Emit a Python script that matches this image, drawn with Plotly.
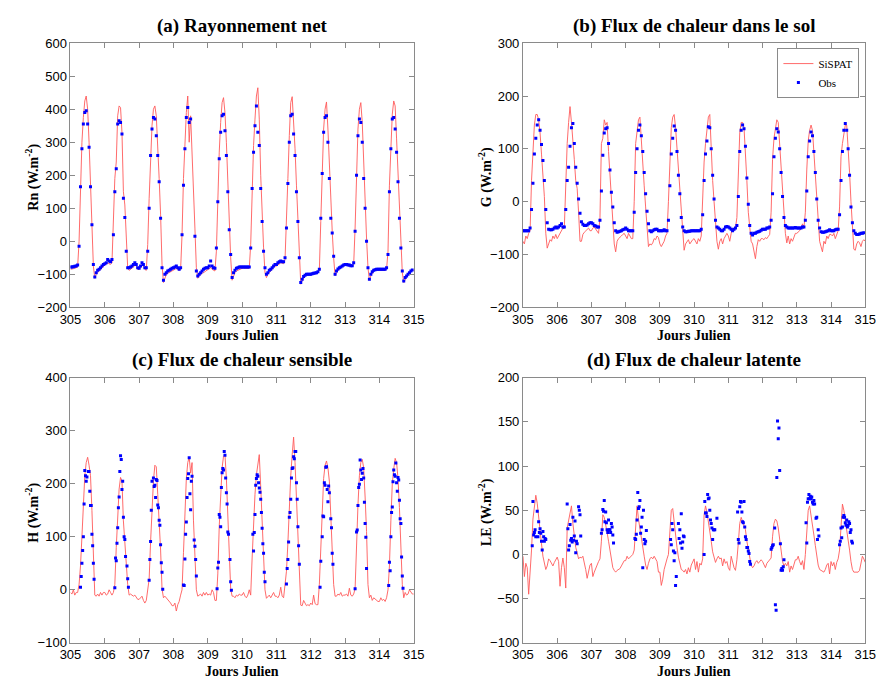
import plotly.graph_objects as go

N = None
DAYS = list(range(305, 315))

# ---------------- (a) Net radiation, hourly values per day ----------------
RN_SISPAT = [
    [-85,-85,-83,-82,-80,-78,0,190,300,375,425,440,400,300,180,50,-75,-112,-100,-95,-90,-85,-80,-75],
    [-72,-70,-65,-68,-70,-65,70,190,240,380,410,405,330,150,110,-10,-80,-88,-85,-82,-78,-72,-75,-85],
    [-85,-80,-70,-75,-85,-88,-10,130,270,350,400,410,380,300,190,80,-70,-125,-110,-100,-97,-95,-92,-90],
    [-88,-85,-82,-85,-88,-85,20,190,300,390,440,300,380,280,160,40,-80,-112,-105,-100,-97,-95,-92,-90],
    [-88,-85,-80,-85,-88,-90,-30,140,270,360,420,435,390,300,180,50,-50,-118,-105,-95,-90,-88,-85,-85],
    [-82,-82,-82,-82,-82,-82,-10,180,290,370,440,465,370,200,80,-20,-95,-110,-100,-95,-90,-85,-80,-75],
    [-75,-72,-68,-65,-66,-68,-55,50,190,320,420,438,370,280,170,70,-40,-130,-120,-110,-105,-103,-102,-100],
    [-102,-101,-100,-99,-97,-94,-88,60,220,340,400,422,340,230,90,30,-50,-105,-95,-88,-84,-80,-77,-75],
    [-72,-72,-74,-75,-76,-76,-70,40,220,340,400,420,360,230,120,10,-80,-118,-105,-95,-90,-88,-87,-87],
    [-88,-88,-88,-88,-88,-85,-30,170,300,385,425,410,310,200,80,-20,-95,-125,-115,-108,-102,-97,-92,-88],
]
RN_SISPAT_END = -88
RN_OBS = [
    [-78,-78,-77,-76,-75,-72,-15,165,280,355,390,395,355,285,165,50,-70,-108,-95,-88,-85,-80,-75,-70],
    [-68,-65,-55,-60,-62,-55,20,150,220,355,365,360,325,130,72,-30,-80,-80,-78,-75,-70,-65,-70,-80],
    [-82,-75,-65,-70,-80,-80,-30,100,260,340,375,370,320,260,180,70,-80,-118,-100,-95,-90,-88,-85,-82],
    [-80,-78,-75,-80,-85,-80,20,170,280,375,405,360,370,N,N,15,-90,-105,-100,-95,-90,-85,-82,-80],
    [-80,-75,-60,-75,-80,-82,-20,120,250,330,380,385,335,260,150,35,-40,-110,-95,-88,-82,-80,-78,-78],
    [-78,-78,-78,-78,-78,-78,-20,160,270,350,410,330,290,160,60,-30,-80,-100,-95,-88,-85,-80,-75,-70],
    [-70,-65,-62,-60,-62,-62,-50,40,175,300,380,385,325,260,150,60,-50,-125,-115,-107,-103,-100,-100,-100],
    [-100,-98,-97,-96,-95,-92,-85,70,205,330,375,380,300,190,70,25,-45,-100,-90,-84,-80,-78,-75,-72],
    [-70,-70,-72,-72,-74,-74,-65,30,200,320,370,360,300,190,100,0,-80,-115,-100,-92,-88,-86,-85,-85],
    [-85,-85,-85,-85,-85,-80,-40,150,280,370,375,340,270,180,70,-20,-90,-120,-110,-105,-100,-95,-90,-87],
]

# ---------------- (b) Ground heat flux, hourly values per day ----------------
G_SISPAT = [
    [-75,-80,-65,-70,-60,-55,40,100,145,165,165,155,130,90,50,10,-60,-88,-80,-72,-75,-65,-70,-62],
    [-70,-65,-60,-55,-50,-50,40,110,150,180,150,120,80,40,25,-20,-75,-75,-62,-58,-55,-52,-50,-55],
    [-55,-50,-48,-52,-55,-60,-30,110,120,155,145,150,95,55,15,-35,-80,-95,-75,-70,-68,-65,-62,-60],
    [-65,-70,-60,-65,-70,-70,0,110,140,155,160,110,70,30,-10,-50,-85,-80,-82,-78,-70,-72,-65,-68],
    [-80,-85,-80,-75,-65,-60,0,90,140,160,165,140,100,60,25,-25,-70,-92,-80,-75,-72,-80,-75,-72],
    [-70,-75,-80,-70,-75,-65,10,75,110,135,160,165,90,40,0,-40,-75,-90,-75,-70,-80,-70,-65,-60],
    [-65,-75,-60,-50,-55,-50,-30,70,130,150,150,140,95,40,-20,-50,-75,-80,-95,-108,-85,-72,-75,-70],
    [-70,-72,-68,-70,-66,-62,-20,80,120,140,155,150,110,65,20,-25,-60,-78,-65,-80,-70,-75,-65,-60],
    [-60,-58,-55,-50,-42,-50,-20,60,115,135,145,135,95,50,10,-40,-75,-85,-95,-75,-80,-65,-70,-62],
    [-62,-65,-60,-70,-60,-55,-10,85,110,130,145,145,105,55,0,-50,-90,-92,-80,-75,-78,-85,-75,-72],
]
G_SISPAT_END = -75
G_OBS = [
    [-55,-55,-55,-55,-55,-50,-15,35,90,120,145,155,135,108,78,40,-15,-40,-52,-53,-53,-52,-50,-48],
    [-50,-48,-45,-42,-48,-48,-15,40,65,105,140,148,110,65,35,5,-22,-38,-43,-45,-45,-44,-42,-40],
    [-40,-42,-45,-46,-48,-48,-35,20,88,130,138,140,110,60,18,-10,-40,-55,-58,-57,-56,-55,-53,-52],
    [-50,-52,-55,-55,-55,-55,-20,55,100,135,145,125,95,55,15,-18,-42,-55,-57,-55,-53,-52,-52,-55],
    [-55,-55,-55,-53,-55,-55,-35,30,90,120,143,135,95,50,15,-30,-48,-55,-57,-57,-56,-56,-55,-55],
    [-55,-55,-55,-55,-55,-52,-25,40,90,115,142,140,100,50,5,-35,-48,-50,-52,-55,-55,-52,-48,-47],
    [-48,-50,-52,-55,-52,-50,-45,10,95,135,145,138,105,45,-5,-45,-60,-63,-60,-60,-58,-57,-56,-54],
    [-52,-52,-52,-50,-50,-48,-35,15,85,120,138,132,100,55,10,-30,-45,-48,-50,-50,-50,-50,-50,-49],
    [-50,-50,-50,-50,-48,-48,-35,20,85,115,132,125,95,55,5,-35,-50,-57,-58,-58,-57,-56,-55,-53],
    [-55,-55,-55,-53,-52,-52,-25,40,95,135,148,135,100,50,-10,-40,-55,-60,-62,-62,-61,-60,-60,-59],
]

# ---------------- (c) Sensible heat flux ----------------
H_SISPAT = [
    [-5,-8,0,-10,-5,-5,10,45,100,170,215,240,250,235,215,150,50,-10,-12,-8,-12,-5,-10,-5],
    [-5,-10,-8,0,-5,-10,-5,10,80,140,190,212,205,130,85,50,10,-10,-8,-10,-12,-10,-15,-18],
    [-18,-15,-12,-20,-25,-20,0,20,90,150,205,235,232,180,137,75,2,-15,-12,-15,-18,-20,-25,-30],
    [-30,-25,-40,-28,-22,-10,0,70,150,210,240,250,220,240,130,55,0,-12,-10,-8,-12,-5,-10,-5],
    [-10,-8,-10,0,-5,-20,-20,30,120,190,230,252,255,210,150,65,2,-12,-12,-15,-10,-12,-8,-10],
    [-10,-5,-12,-15,-10,0,-10,60,125,180,217,240,255,195,135,70,0,-16,-12,-10,-15,-10,-5,-12],
    [-12,-15,-10,5,-12,-15,5,35,88,160,215,255,288,240,170,95,35,-29,-30,-20,-25,-30,-28,-30],
    [-25,-28,-10,-26,-28,-28,10,70,150,210,235,243,230,205,140,60,10,-12,-12,-8,-10,-5,-12,-10],
    [-10,-8,-12,3,-10,-12,-8,2,90,160,215,240,246,230,175,110,10,-15,-10,-20,-15,-18,-20,-22],
    [-22,-15,-20,-18,-22,-15,0,45,130,200,228,248,240,210,155,88,10,-15,-5,-10,-8,0,-5,-8],
]
H_SISPAT_END = -8
# observations every half hour from 06:00 to 17:00 (23 values per day)
H_OBS = [
    [N,N,5,25,50,74,100,162,225,215,205,213,N,223,223,186,159,159,105,83,50,20,N],
    [N,N,4,60,55,88,117,155,175,223,253,246,189,205,137,100,95,63,N,45,21,5,N],
    [N,N,18,57,91,150,205,N,211,195,197,174,208,206,160,155,131,122,85,51,33,1,N],
    [N,N,9,8,58,105,128,174,210,219,249,181,151,205,214,N,N,94,82,57,26,N,N],
    [N,2,41,52,142,137,119,193,221,229,226,261,254,211,183,162,109,105,N,57,15,-1,N],
    [N,N,N,105,73,108,142,197,210,217,214,202,192,184,171,146,116,87,69,33,15,N,N],
    [N,N,11,40,57,90,137,146,171,211,229,230,251,247,261,261,202,171,119,83,48,N,N],
    [N,5,54,N,100,139,138,202,197,231,232,189,166,196,183,N,134,117,69,48,N,N,N],
    [N,N,2,N,109,113,159,193,199,245,226,208,220,229,211,165,125,99,40,N,N,N,N],
    [N,8,52,36,100,146,156,204,226,217,214,239,202,186,212,207,169,134,125,62,26,3,N],
]

# ---------------- (d) Latent heat flux ----------------
LE_SISPAT = [
    [-2,-25,-10,-15,-45,-25,5,40,58,67,58,40,28,12,-2,-10,-17,-13,-5,-7,-11,-13,-9,-5],
    [-3,-8,-36,-15,-4,-15,-38,30,40,50,55,35,20,8,2,-5,-3,-4,-2,-9,-17,-27,-20,-12],
    [-10,-25,-20,-15,-12,-8,-5,15,45,42,35,25,15,5,-8,-15,-18,-20,-18,-17,-16,-13,-10,-7],
    [-7,-2,-5,-3,-1,0,5,30,55,40,28,18,8,-2,-12,-17,-10,-5,-3,-5,-2,-5,-8,-20],
    [-20,-35,-28,-17,-10,-5,0,25,50,52,35,20,8,-3,-12,-17,-18,-20,-17,-22,-15,-20,-12,-8],
    [-5,-17,-8,-20,-10,-12,-5,45,55,48,35,25,15,3,-5,-9,-5,-2,-5,-4,-13,-5,-10,-8],
    [-15,-18,-2,-9,-15,-18,-6,13,35,42,38,34,28,15,5,-3,-12,-15,-13,-9,-7,-10,-8,-6],
    [-8,-12,-15,-10,-8,-6,-4,20,35,40,38,30,18,5,-8,-13,-10,-13,-8,-20,-13,-17,-10,-6],
    [-6,-2,-8,-12,-7,-17,0,25,50,55,42,32,22,10,-2,-12,-17,-18,-19,-20,-17,-12,-10,-22],
    [-8,-13,-9,-17,-9,-5,5,30,57,50,40,25,15,5,-8,-17,-20,-20,-20,-20,-18,-10,-2,-5],
]
LE_SISPAT_END = -9
LE_OBS = [
    [N,10,60,22,25,28,20,N,49,20,37,25,29,24,15,5,26,20,15,18,17,N,N],
    [N,N,57,29,5,10,34,16,18,14,42,16,21,38,2,15,12,N,54,50,45,21,N],
    [N,N,24,28,51,49,61,37,48,36,28,25,39,28,28,25,35,31,22,13,N,N,N],
    [N,18,17,23,39,70,52,54,61,24,31,42,-15,50,17,12,15,27,N,N,N,N,N],
    [N,N,N,17,11,35,28,4,-7,2,-35,-25,N,N,35,18,28,13,46,7,14,21,20],
    [N,N,0,60,47,47,43,68,63,64,50,39,35,30,17,28,28,28,N,N,41,N,N],
    [N,48,17,13,54,60,59,48,37,36,60,31,20,17,8,8,4,1,-8,-11,N,N,N],
    [6,8,10,11,N,30,-57,-63,87,151,131,143,95,12,-18,-16,-18,-14,-6,N,N,N,N],
    [N,36,13,59,63,68,63,66,63,65,59,57,61,57,N,41,42,17,28,21,N,N,N],
    [11,15,30,19,31,42,44,42,36,33,39,31,33,37,35,25,28,15,13,N,N,N,N],
]

X_TICKS = list(range(305, 316))
TITLES = ["(a) Rayonnement net", "(b) Flux de chaleur dans le sol",
          "(c) Flux de chaleur sensible", "(d) Flux de chaleur latente"]
YLABELS = ["Rn (W.m<sup>-2</sup>)", "G (W.m<sup>-2</sup>)",
           "H (W.m<sup>-2</sup>)", "LE (W.m<sup>-2</sup>)"]
YRANGES = [(-200, 600, 100), (-200, 300, 100), (-100, 400, 100), (-100, 200, 50)]


def flat(rows, end=None):
    out = [v for r in rows for v in r]
    if end is not None:
        out.append(end)
    return out


t_model = [305 + k / 24 for k in range(241)]
t_hourly = [305 + k / 24 for k in range(240)]
t_half = [d + (6 + 0.5 * j) / 24 for d in DAYS for j in range(23)]

series = [
    (flat(RN_SISPAT, RN_SISPAT_END), t_hourly, flat(RN_OBS)),
    (flat(G_SISPAT, G_SISPAT_END), t_hourly, flat(G_OBS)),
    (flat(H_SISPAT, H_SISPAT_END), t_half, flat(H_OBS)),
    (flat(LE_SISPAT, LE_SISPAT_END), t_half, flat(LE_OBS)),
]

W, H = 886, 688
# plot areas in pixels: (left, right, top, bottom)
boxes = [(61, 413, 37, 307), (525, 876, 37, 307),
         (61, 413, 379, 650), (525, 876, 379, 650)]

fig = go.Figure()
RED = "rgb(255,90,90)"
BLUE = "#0000ff"
GREY = "#8a8a8a"

for i, (model, t_obs, obs) in enumerate(series):
    xa = "x" if i == 0 else f"x{i+1}"
    ya = "y" if i == 0 else f"y{i+1}"
    fig.add_trace(go.Scatter(x=t_model, y=model, mode="lines", name="SiSPAT",
                             line=dict(color=RED, width=0.9),
                             xaxis=xa, yaxis=ya, showlegend=(i == 1)))
    fig.add_trace(go.Scatter(x=t_obs, y=obs, mode="markers", name="Obs",
                             marker=dict(color=BLUE, size=3, symbol="square",
                                         line=dict(width=0)),
                             xaxis=xa, yaxis=ya, showlegend=(i == 1)))

axis_common = dict(showline=True, linecolor=GREY, linewidth=1, mirror="ticks",
                   ticks="inside", ticklen=5, tickcolor=GREY, showgrid=False,
                   zeroline=False,
                   tickfont=dict(family="Liberation Sans, Arial", size=13, color="black"))

layout = dict(width=W, height=H, margin=dict(l=0, r=0, t=0, b=0),
              paper_bgcolor="white", plot_bgcolor="white", showlegend=True)
annotations = []
for i, (l, r, t, b) in enumerate(boxes):
    xk = "xaxis" if i == 0 else f"xaxis{i+1}"
    yk = "yaxis" if i == 0 else f"yaxis{i+1}"
    ya = "y" if i == 0 else f"y{i+1}"
    xa = "x" if i == 0 else f"x{i+1}"
    lo, hi, dt = YRANGES[i]
    layout[xk] = dict(domain=[l / W, r / W], range=[305, 315], anchor=ya,
                      tickmode="array", tickvals=X_TICKS,
                      ticktext=[str(v) for v in X_TICKS], **axis_common)
    layout[yk] = dict(domain=[1 - b / H, 1 - t / H], range=[lo, hi], anchor=xa,
                      dtick=dt, tick0=lo, **axis_common)
    cx = (l + r) / 2 / W
    annotations.append(dict(text="<b>" + TITLES[i] + "</b>", x=cx, y=1 - (t - 18) / H,
                            xref="paper", yref="paper", showarrow=False,
                            xanchor="center", yanchor="middle",
                            font=dict(family="Liberation Serif", size=19, color="black")))
    annotations.append(dict(text="<b>Jours Julien</b>", x=cx, y=1 - (b + 29) / H,
                            xref="paper", yref="paper", showarrow=False,
                            xanchor="center", yanchor="middle",
                            font=dict(family="Liberation Serif", size=14, color="black")))
    annotations.append(dict(text="<b>" + YLABELS[i] + "</b>", x=(l - 39) / W,
                            y=1 - ((t + b) / 2 + 2) / H,
                            xref="paper", yref="paper", showarrow=False, textangle=-90,
                            xanchor="center", yanchor="middle",
                            font=dict(family="Liberation Serif", size=14, color="black")))

layout["annotations"] = annotations
layout["legend"] = dict(x=870 / W, y=1 - 42 / H, xanchor="right", yanchor="top",
                        bordercolor=GREY, borderwidth=1, bgcolor="white",
                        itemwidth=30, tracegroupgap=0,
                        font=dict(family="Liberation Serif", size=11, color="black"))
fig.update_layout(**layout)
fig.write_html("out.html")
